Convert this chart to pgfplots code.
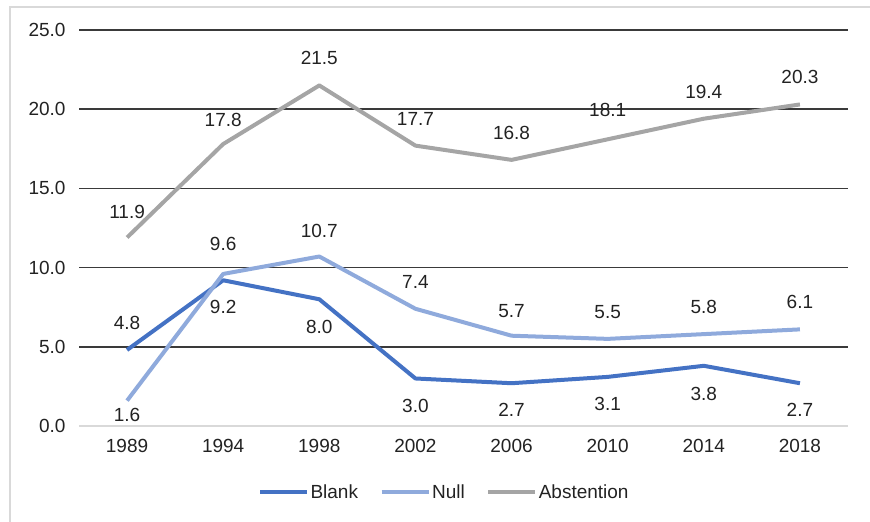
\documentclass[border=0pt]{standalone}
\usepackage{pgfplots}
\pgfplotsset{compat=1.18}
\usepackage{pgfplotstable}
\usepackage{fontspec}
\setmainfont{Liberation Sans}
\definecolor{blankc}{HTML}{4472C4}
\definecolor{nullc}{HTML}{8FAADC}
\definecolor{absc}{HTML}{A5A5A5}
\definecolor{gridc}{HTML}{3A3A3A}
\definecolor{axc}{HTML}{D9D9D9}
\definecolor{txtc}{HTML}{222222}

\pgfplotstableread{
x y off
0 4.8 27
1 9.2 -27
2 8.0 -28
3 3.0 -27
4 2.7 -27
5 3.1 -27
6 3.8 -28
7 2.7 -27
}\blankdata

\pgfplotstableread{
x y off
0 1.6 -14
1 9.6 30
2 10.7 26
3 7.4 27
4 5.7 25
5 5.5 27
6 5.8 27
7 6.1 27
}\nulldata

\pgfplotstableread{
x y off
0 11.9 26
1 17.8 24
2 21.5 27
3 17.7 27
4 16.8 27
5 18.1 29
6 19.4 27
7 20.3 27
}\absdata

\begin{document}
\begin{tikzpicture}[font=\fontsize{19bp}{22bp}\selectfont, text=txtc]
\begin{axis}[
  at={(79bp,96bp)}, anchor=south west,
  scale only axis, width=769bp, height=396bp,
  xmin=-0.5, xmax=7.5, ymin=0, ymax=25,
  xtick={0,...,7},
  xticklabels={1989,1994,1998,2002,2006,2010,2014,2018},
  ytick={5,10,...,25},
  extra y ticks={0},
  extra y tick style={grid style={axc, line width=2bp}},
  /pgf/number format/assume math mode=true,
  yticklabel={\pgfmathprintnumber[fixed,fixed zerofill,precision=1]{\tick}},
  yticklabel style={xshift=-10bp},
  xticklabel style={yshift=-10bp},
  major tick length=0pt,
  axis line style={draw=none},
  ymajorgrids,
  grid style={gridc, line width=1.5bp},
  clip=false,
  line join=round,
  nodes near coords={\pgfmathprintnumber[fixed,fixed zerofill,precision=1,assume math mode=true]{\pgfplotspointmeta}},
  visualization depends on={\thisrow{off}\as\myoff},
  every node near coord/.append style={anchor=center, inner sep=0pt, yshift=\myoff bp, text=txtc},
  legend image code/.code={\draw[#1, line width=4bp] (0bp,0bp) -- (47bp,0bp);},
  legend style={at={(axis description cs:0.2328,-0.1667)}, anchor=west, draw=none, fill=none,
    inner sep=0pt, outer sep=0pt,
    legend columns=-1,
    nodes={inner sep=1.5bp, text=txtc},
    /tikz/every even column/.append style={column sep=20bp}},
]
\addplot[blankc, line width=4bp, mark=none] table[x=x, y=y] {\blankdata};
\addlegendentry{Blank}
\addplot[nullc, line width=4bp, mark=none] table[x=x, y=y] {\nulldata};
\addlegendentry{Null}
\addplot[absc, line width=4bp, mark=none] table[x=x, y=y] {\absdata};
\addlegendentry{Abstention}
\end{axis}
\draw[axc, line width=2bp] (10bp,0bp) -- (10bp,515bp) -- (870bp,515bp);
\pgfresetboundingbox
\path[use as bounding box] (0bp,0bp) rectangle (870bp,522bp);
\end{tikzpicture}
\end{document}
